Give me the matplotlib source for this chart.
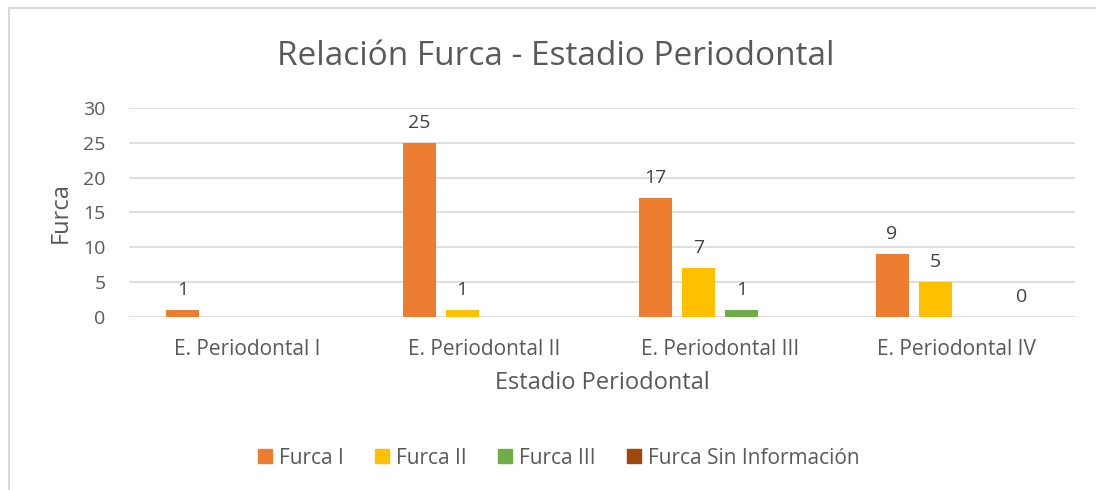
import numpy as np
import matplotlib.pyplot as plt
from matplotlib.patches import Patch

# Datos del gráfico
estadios = ["E. Periodontal I", "E. Periodontal II", "E. Periodontal III", "E. Periodontal IV"]
furca_1 = [1, 25, 17, 9]
furca_2 = [np.nan, 1, 7, 5]
furca_3 = [np.nan, np.nan, 1, np.nan]
furca_si = [np.nan, np.nan, np.nan, 0]

series = ["Furca I", "Furca II", "Furca III", "Furca Sin Información"]
valores = [furca_1, furca_2, furca_3, furca_si]
colores = ["#ED7D31", "#FFC000", "#70AD47", "#9E480E"]

plt.rcParams['font.family'] = ['Open Sans', 'DejaVu Sans']
gris = "#595959"

fig = plt.figure(figsize=(10.96, 4.9), dpi=100)
ax = fig.add_axes([0.1177, 0.353, 0.863, 0.427])

x = np.arange(len(estadios))
ancho = 0.14
paso = 0.182
for i, (nombre, vals, c) in enumerate(zip(series, valores, colores)):
    pos = x + (i - 1.5) * paso
    v = np.array(vals, dtype=float)
    ax.bar(pos, np.nan_to_num(v), ancho, color=c, zorder=3)
    for p, val in zip(pos, v):
        if not np.isnan(val):
            ax.annotate(f"{int(val)}", (p, val), xytext=(0, 8), textcoords="offset points",
                        ha="center", va="bottom", fontsize=14, color="#404040")

ax.set_xlim(-0.5, 3.5)
ax.set_ylim(0, 30)
ax.set_yticks(range(0, 31, 5))
ax.set_xticks(x)
ax.set_xticklabels(estadios)
ax.tick_params(axis="y", length=0, colors=gris, labelsize=14, pad=17)
ax.tick_params(axis="x", length=0, colors=gris, labelsize=15, pad=16)
ax.yaxis.grid(True, color="#D9D9D9", linewidth=1.2, zorder=0)
for s in ax.spines.values():
    s.set_visible(False)

ax.set_ylabel("Furca", fontsize=17, color=gris, labelpad=7)
ax.set_xlabel("Estadio Periodontal", fontsize=17, color=gris, labelpad=8)
fig.text(0.507, 0.884, "Relación Furca - Estadio Periodontal", ha="center", va="center",
         fontsize=24, color=gris)

handles = [Patch(color=c, label=n) for n, c in zip(series, colores)]
fig.legend(handles=handles, loc="center", bbox_to_anchor=(0.51, 0.065), ncol=4, frameon=False,
           fontsize=15, labelcolor=gris, handlelength=0.65, handleheight=0.65,
           handletextpad=0.35, columnspacing=1.5)

# borde del gráfico
fig.add_artist(plt.Line2D([0.0085, 0.0085], [0, 0.984], color="#D9D9D9", linewidth=1.5))
fig.add_artist(plt.Line2D([0.0085, 1], [0.984, 0.984], color="#D9D9D9", linewidth=1.5))

fig.savefig("out.png", dpi=100)
